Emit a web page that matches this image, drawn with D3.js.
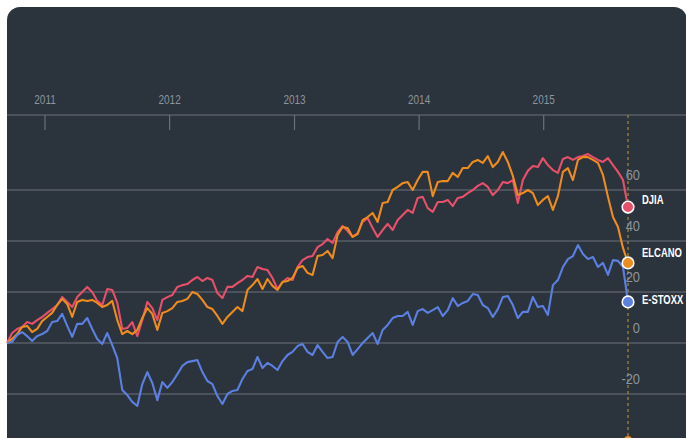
<!DOCTYPE html>
<html lang="en">
<head>
<meta charset="UTF-8">
<title>DJIA / ELCANO / E-STOXX</title>
<script src="https://d3js.org/d3.v7.min.js"></script>
<style>
  body { margin: 0; background: #fff; font-family: "Liberation Sans", Arial, sans-serif; }
  svg { display: block; }
</style>
</head>
<body>
<svg width="686" height="438"></svg>
<script>
  // cumulative change in %, sampled every ~2 weeks from Sep 2010 to Sep 2015
  const startDate = new Date(2010, 8, 12);
  const endDate = new Date(2015, 8, 5);
  const yearTicks = [2011, 2012, 2013, 2014, 2015];
  const valueTicks = [-20, 0, 20, 40, 60];

  const djia = [0, 3.9, 5.5, 6.3, 8.2, 7.5, 9.0, 10.2, 11.8, 13.3, 14.9, 18.0, 16.1, 14.1, 18.0, 20.0, 22.0, 20.0, 16.5, 14.9,
    21.2, 20.8, 15.7, 5.5, 5.9, 8.2, 2.7, 9.0, 16.1, 13.7, 9.0, 16.9, 18.0, 18.8, 22.0, 22.7, 23.1, 24.7, 25.9, 24.3,
    25.5, 24.7, 19.6, 17.6, 22.0, 22.0, 23.5, 24.7, 26.3, 25.9, 29.8, 29.0, 28.6, 25.5, 21.2, 23.9, 25.5, 24.7, 29.8, 32.5,
    33.7, 34.1, 37.6, 38.8, 40.8, 39.2, 43.5, 45.9, 43.9, 41.6, 43.1, 47.5, 49.0, 45.1, 41.6, 44.3, 46.7, 44.3, 48.2, 50.2,
    52.2, 51.0, 56.9, 57.3, 52.9, 51.4, 55.3, 55.3, 56.1, 53.7, 56.9, 57.3, 58.8, 60.0, 61.6, 62.7, 61.2, 58.0, 60.0, 63.1,
    62.7, 63.9, 54.9, 63.9, 67.5, 69.4, 69.0, 72.5, 69.8, 67.8, 66.7, 72.2, 72.9, 71.8, 72.9, 73.3, 74.1, 72.9, 71.8, 71.0,
    72.5, 69.8, 67.1, 63.9, 53.3];

  const elcano = [0, 1.6, 3.5, 6.3, 6.7, 4.3, 5.5, 8.6, 10.2, 11.8, 14.9, 17.3, 15.3, 10.2, 16.1, 16.9, 16.5, 16.9, 15.7, 14.1,
    14.9, 16.5, 9.0, 3.5, 4.7, 3.5, 5.1, 9.8, 13.7, 11.4, 5.1, 11.8, 12.5, 13.7, 16.1, 16.5, 17.3, 20.0, 19.2, 16.9,
    14.1, 13.3, 10.6, 7.5, 10.2, 12.2, 14.1, 12.5, 20.8, 22.7, 25.1, 21.2, 25.1, 22.4, 20.8, 23.9, 24.3, 25.5, 29.4, 30.2,
    27.5, 26.7, 34.1, 34.5, 36.1, 33.3, 42.4, 45.5, 45.1, 41.6, 42.7, 48.2, 49.4, 51.0, 47.5, 54.9, 55.3, 60.0, 61.2, 62.7,
    63.1, 60.0, 63.9, 67.1, 67.1, 57.6, 63.1, 63.5, 63.5, 66.7, 65.1, 68.6, 68.6, 71.0, 71.8, 70.6, 73.3, 69.0, 71.0, 74.9,
    71.0, 65.5, 58.0, 58.8, 60.0, 58.8, 54.1, 56.1, 57.6, 52.2, 57.6, 67.1, 68.6, 63.9, 71.8, 72.9, 72.9, 71.8, 70.6, 65.9,
    57.3, 49.4, 45.5, 37.3, 31.4];

  const estoxx = [0, 0.4, 3.1, 4.3, 2.7, 0.8, 2.7, 3.5, 4.7, 8.2, 8.6, 11.4, 6.7, 2.4, 7.5, 7.5, 9.8, 5.5, 1.6, -0.4,
    3.9, -0.8, -5.9, -18.4, -20.4, -23.1, -24.7, -16.1, -11.4, -15.7, -22.4, -15.3, -17.6, -15.3, -12.2, -9.0, -7.5, -7.1, -6.7, -11.4,
    -14.9, -16.1, -20.8, -23.9, -20.0, -18.8, -18.4, -14.1, -11.0, -10.2, -5.5, -9.8, -7.8, -9.0, -10.6, -7.1, -4.7, -3.5, -1.2, -0.4,
    -3.5, -4.7, -0.8, -3.5, -5.9, -5.5, 0.4, 2.4, 0.4, -4.7, -2.4, 0, 2.0, 3.9, -0.4, 5.1, 7.1, 9.8, 10.6, 10.6,
    12.2, 7.1, 12.5, 13.3, 11.8, 12.9, 14.1, 10.6, 12.9, 17.6, 14.5, 15.7, 16.5, 19.2, 18.8, 14.9, 13.7, 10.2, 13.3, 18.0,
    18.4, 14.9, 9.8, 12.2, 12.2, 18.0, 14.1, 14.5, 11.0, 22.7, 24.7, 29.8, 32.9, 34.1, 38.4, 34.9, 32.9, 33.7, 29.8, 31.4,
    26.7, 32.5, 32.2, 29.8, 16.1];

  const seriesNames = ["DJIA", "ELCANO", "E-STOXX"];
  const seriesValues = [djia, elcano, estoxx];
  const seriesColors = ["#e8506a", "#ee8c1e", "#5b80e2"];
  const labelShift = [-8, -11, -3];

  const svg = d3.select("svg");
  const n = djia.length;
  const step = (endDate - startDate) / (n - 1);
  const dates = d3.range(n).map(i => new Date(+startDate + i * step));

  const x = d3.scaleTime()
    .domain([new Date(2011, 0, 1), new Date(2015, 0, 1)])
    .range([45, 543.7]);
  const y = d3.scaleLinear().domain([-20, 60]).range([394, 190]);

  // dark panel
  svg.append("rect")
    .attr("x", 7).attr("y", 7)
    .attr("width", 680).attr("height", 445)
    .attr("rx", 13)
    .attr("fill", "#2b333d");

  // condensed text helper
  function label(g, px, py, txt, opts) {
    g.append("g")
      .attr("transform", `translate(${px},${py})`)
      .append("text")
      .attr("transform", `scale(${opts.sx},1)`)
      .attr("text-anchor", opts.anchor || "start")
      .attr("dominant-baseline", "central")
      .attr("font-size", opts.size)
      .attr("font-weight", opts.weight || "normal")
      .attr("fill", opts.fill)
      .text(txt);
  }

  // grid lines
  svg.append("g")
    .selectAll("line")
    .data(valueTicks)
    .join("line")
    .attr("x1", 7).attr("x2", 686)
    .attr("y1", d => y(d)).attr("y2", d => y(d))
    .attr("stroke", "#575e67")
    .attr("stroke-width", 1.7);

  // top time axis
  const axisY = 115;
  svg.append("line")
    .attr("x1", 7).attr("x2", 686)
    .attr("y1", axisY).attr("y2", axisY)
    .attr("stroke", "#575e67").attr("stroke-width", 1.7);

  const yearDates = yearTicks.map(yr => new Date(yr, 0, 1));
  svg.append("g")
    .selectAll("line")
    .data(yearDates)
    .join("line")
    .attr("x1", d => x(d)).attr("x2", d => x(d))
    .attr("y1", axisY).attr("y2", axisY + 15)
    .attr("stroke", "#6a7078").attr("stroke-width", 1.2);

  const yearG = svg.append("g");
  yearDates.forEach((d, i) => {
    label(yearG, x(d), 99.5, String(yearTicks[i]), { sx: 0.8, size: 12.5, fill: "#8e949c", anchor: "middle" });
  });

  // current date marker
  const endX = x(dates[n - 1]);
  svg.append("line")
    .attr("x1", endX).attr("x2", endX)
    .attr("y1", axisY).attr("y2", 440)
    .attr("stroke", "#9c8538")
    .attr("stroke-width", 1.3)
    .attr("stroke-dasharray", "3,3");

  // value labels
  const valG = svg.append("g");
  valueTicks.forEach(v => {
    label(valG, 640, y(v) - 15, String(v), { sx: 0.92, size: 14, fill: "#8e949c", anchor: "end" });
  });

  // lines
  const line = d3.line()
    .x((d, i) => x(dates[i]))
    .y(d => y(d));

  svg.append("g")
    .selectAll("path")
    .data(seriesValues)
    .join("path")
    .attr("d", d => line(d))
    .attr("fill", "none")
    .attr("stroke", (d, i) => seriesColors[i])
    .attr("stroke-width", 2.1)
    .attr("stroke-linejoin", "round");

  // end dots and names
  svg.append("g")
    .selectAll("circle")
    .data(seriesValues)
    .join("circle")
    .attr("cx", endX)
    .attr("cy", d => y(d[d.length - 1]))
    .attr("r", 5.8)
    .attr("fill", (d, i) => seriesColors[i])
    .attr("stroke", "#fff")
    .attr("stroke-width", 1.6);

  const nameG = svg.append("g");
  seriesValues.forEach((vals, i) => {
    label(nameG, endX + 14, y(vals[vals.length - 1]) + labelShift[i], seriesNames[i],
      { sx: 0.7, size: 13.5, weight: "bold", fill: "#ffffff" });
  });

  svg.append("circle")
    .attr("cx", endX).attr("cy", 440)
    .attr("r", 4)
    .attr("fill", "#ee8c1e");
</script>
</body>
</html>
